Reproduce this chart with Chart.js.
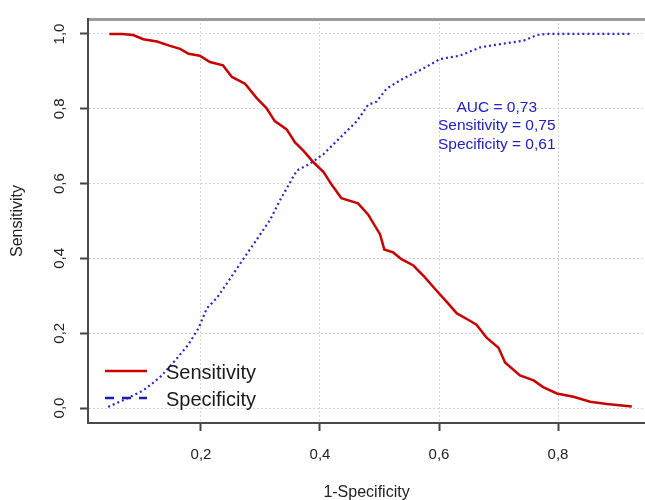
<!DOCTYPE html>
<html><head><meta charset="utf-8">
<script src="https://cdn.jsdelivr.net/npm/chart.js@4.4.1/dist/chart.umd.min.js"></script>
<style>html,body{margin:0;padding:0;background:#fff;}#wrap{width:645px;height:500px;}</style>
</head><body><div id="wrap"><canvas id="c" width="645" height="500"></canvas></div>
<script>
// ---- data ----
const sensX = [0.046,0.067,0.086,0.103,0.126,0.148,0.165,0.179,0.198,0.215,0.237,0.252,0.274,0.294,0.310,0.324,0.344,0.358,0.372,0.389,0.406,0.420,0.436,0.464,0.481,0.501,0.508,0.523,0.537,0.557,0.576,0.593,0.613,0.630,0.649,0.663,0.680,0.700,0.711,0.736,0.759,0.775,0.798,0.826,0.854,0.882,0.924];
const sensY = [1.000,1.000,0.997,0.986,0.980,0.968,0.960,0.947,0.942,0.925,0.916,0.885,0.867,0.828,0.802,0.767,0.745,0.710,0.688,0.657,0.631,0.596,0.561,0.547,0.517,0.464,0.424,0.416,0.398,0.381,0.350,0.319,0.284,0.253,0.236,0.223,0.188,0.161,0.122,0.087,0.074,0.056,0.039,0.030,0.017,0.011,0.004];
const specX = [0.044,0.075,0.103,0.131,0.156,0.179,0.196,0.210,0.226,0.249,0.271,0.294,0.316,0.333,0.361,0.383,0.406,0.434,0.462,0.481,0.495,0.512,0.540,0.568,0.602,0.635,0.669,0.703,0.742,0.764,0.781,0.921];
const specY = [0.003,0.025,0.047,0.082,0.126,0.170,0.214,0.267,0.293,0.346,0.398,0.451,0.503,0.556,0.635,0.653,0.679,0.723,0.767,0.811,0.819,0.854,0.881,0.903,0.933,0.942,0.964,0.973,0.982,0.997,1.000,1.000];
const seriesNames = ['Sensitivity','Specificity'];
const xTickValues = [0.2,0.4,0.6,0.8];
const xTickLabels = ['0,2','0,4','0,6','0,8'];
const yTickValues = [0.0,0.2,0.4,0.6,0.8,1.0];
const yTickLabels = ['0,0','0,2','0,4','0,6','0,8','1,0'];
const xTitle = '1-Specificity';
const yTitle = 'Sensitivity';
const annotationLines = ['AUC = 0,73','Sensitivity = 0,75','Specificity = 0,61'];

const FONT = "'Liberation Sans', Arial, Helvetica, sans-serif";
const RED = '#c80000';
const BLUE = '#2a2acc';

const toPts = (xs, ys) => xs.map((x, i) => ({x: x, y: ys[i]}));

const overlay = {
  id: 'overlay',
  afterDatasetsDraw(chart) {
    const ctx = chart.ctx;
    const xs = chart.scales.x, ys = chart.scales.y;
    ctx.save();
    // legend (no box), bottom-left inside the plot
    chart.data.datasets.forEach((ds, i) => {
      const y = 371 + i * 27;
      ctx.beginPath();
      ctx.setLineDash(i === 0 ? [] : [9, 8]);
      ctx.strokeStyle = i === 0 ? RED : '#1c1cae';
      ctx.lineWidth = 2.5;
      ctx.moveTo(105, y);
      ctx.lineTo(147, y);
      ctx.stroke();
      ctx.setLineDash([]);
      ctx.fillStyle = '#1a1a1a';
      ctx.font = '20px ' + FONT;
      ctx.textBaseline = 'middle';
      ctx.textAlign = 'left';
      ctx.fillText(ds.label, 166, y + 2);
    });
    // AUC annotation
    const ax = xs.getPixelForValue(0.697);
    const ay = ys.getPixelForValue(0.803);
    ctx.fillStyle = '#2020c4';
    ctx.font = '15.5px ' + FONT;
    ctx.textAlign = 'center';
    ctx.textBaseline = 'middle';
    annotationLines.forEach((t, i) => ctx.fillText(t, ax, ay + i * 18.5));
    ctx.restore();
  }
};

new Chart(document.getElementById('c'), {
  type: 'line',
  data: {
    datasets: [
      {label: seriesNames[0], data: toPts(sensX, sensY), borderColor: RED, borderWidth: 2.5, pointRadius: 0, tension: 0, fill: false},
      {label: seriesNames[1], data: toPts(specX, specY), borderColor: BLUE, borderWidth: 2.2, borderDash: [2, 3], pointRadius: 0, tension: 0, fill: false}
    ]
  },
  options: {
    responsive: false,
    animation: false,
    devicePixelRatio: 1,
    layout: {padding: {left: 0, top: 12, right: 0, bottom: 0}},
    plugins: {legend: {display: false}, tooltip: {enabled: false}},
    scales: {
      x: {
        type: 'linear', position: 'bottom', min: 0.0101, max: 0.9462,
        afterBuildTicks: s => { s.ticks = xTickValues.map(v => ({value: v})); },
        afterFit: s => { s.height = 77; },
        ticks: {callback: (v, i) => xTickLabels[i], font: {family: FONT, size: 15}, color: '#222', padding: 15, maxRotation: 0, minRotation: 0},
        grid: {color: '#d6d6d6', lineWidth: 1, tickColor: '#444', tickWidth: 2, tickLength: 8, drawTicks: true},
        border: {display: true, color: '#4a4a4a', width: 2, dash: [2, 2]},
        title: {display: true, text: xTitle, font: {family: FONT, size: 16, lineHeight: 1}, color: '#222', padding: {top: 0, bottom: -1}}
      },
      x2: {
        type: 'linear', position: 'top', min: 0.0101, max: 0.9462,
        ticks: {display: false},
        grid: {drawOnChartArea: false, drawTicks: false},
        border: {display: true, color: '#9a9a9a', width: 3},
        afterFit: s => { s.height = 0; }
      },
      y: {
        type: 'linear', position: 'left', min: -0.04, max: 1.04,
        afterBuildTicks: s => { s.ticks = yTickValues.map(v => ({value: v})); },
        afterFit: s => { s.width = 88; },
        ticks: {callback: (v, i) => yTickLabels[i], font: {family: FONT, size: 15}, color: '#222', padding: 10, minRotation: 90, maxRotation: 90, crossAlign: 'center'},
        grid: {color: '#d6d6d6', lineWidth: 1, tickColor: '#444', tickWidth: 2, tickLength: 8, drawTicks: true},
        border: {display: true, color: '#4a4a4a', width: 2, dash: [2, 2]},
        title: {display: true, text: yTitle, font: {family: FONT, size: 16}, color: '#222', padding: {top: 8, bottom: 0}}
      }
    }
  },
  plugins: [overlay]
});
</script></body></html>
